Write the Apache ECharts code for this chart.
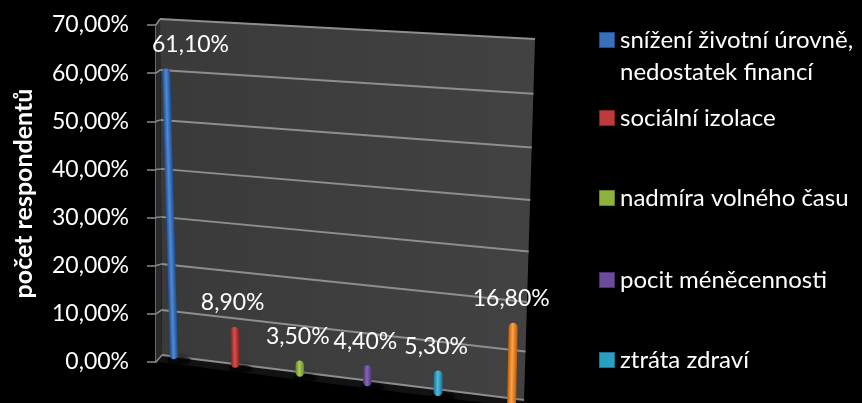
<!DOCTYPE html>
<html>
<head>
<meta charset="utf-8">
<script src="https://cdn.jsdelivr.net/npm/echarts@6/dist/echarts.min.js"></script>
<style>
  html, body { margin: 0; padding: 0; background: #000; }
  #chart { width: 862px; height: 403px; }
</style>
</head>
<body>
<div id="chart"></div>
<script>
// ---- data ----
const categories = [
  'snížení životní úrovně,\nnedostatek financí',
  'sociální izolace',
  'nadmíra volného času',
  'pocit méněcennosti',
  'ztráta zdraví',
  'jiné'
];
const shares = [61.1, 8.9, 3.5, 4.4, 5.3, 16.8];
const gridValues = [0, 10, 20, 30, 40, 50, 60, 70];
const axisTitle = 'počet respondentů';
const legendCount = 5;

// ---- styling ----
const shades = [
  { base: '#3a6fbd', edge: '#1f4c8c', mid: '#4f8ad6' },
  { base: '#c0393b', edge: '#8a2220', mid: '#d9504c' },
  { base: '#8db33e', edge: '#66852a', mid: '#a9cc58' },
  { base: '#6b4c9a', edge: '#4a3273', mid: '#8566b4' },
  { base: '#2b9fc3', edge: '#1a7391', mid: '#4cbde2' },
  { base: '#f0821e', edge: '#b95c0c', mid: '#ffa242' }
];
const FONT_FAMILY = 'Lato, sans-serif';
const LABEL_SIZE = 23;
const LEGEND_SIZE = 24;

const fmtPct = v => v.toFixed(2).replace('.', ',') + '%';

const measureCtx = document.createElement('canvas').getContext('2d');
function textWidth(s, size) {
  measureCtx.font = size + 'px Lato, sans-serif';
  return measureCtx.measureText(s).width;
}

// ---- perspective helpers (pixel space) ----
// upper part of the back wall sits slightly nearer to the viewer
function warpU(u) { return 0.9286 * u + 0.0714 * u * u; }
// back wall: t across (0 = left, 1 = right), u up (0 = axis min, 1 = axis max)
function wallPoint(t, u) {
  const w = warpU(u);
  const xl = 162 - 2 * u, yl = 355 - 336 * w;
  const xr = 524 + 11 * u, yr = 400 - 361 * w;
  return [xl + (xr - xl) * t, yl + (yr - yl) * t];
}
// front row where the columns stand
function frontX(t) { return 144.5 + 350 * t + 55 * t * t; }
function frontBase(x) { return 359 + 0.1396 * (x - 173); }
function frontScale(x) { return 336 + 0.0944 * (x - 173); }
function frontSlant(x) { return -0.0275 + 0.00014 * (x - 173); }

function renderWall(params, api) {
  const cs = params.coordSys;
  const v = api.value(1);
  const py = api.coord([0, v])[1];
  const u = (cs.y + cs.height - py) / cs.height;
  const a = wallPoint(0, u), b = wallPoint(1, u);
  const children = [];
  if (params.dataIndex === 0) {
    const bl = wallPoint(0, 0), br = wallPoint(1, 0), tr = wallPoint(1, 1), tl = wallPoint(0, 1);
    children.push({
      type: 'polygon', z2: 0,
      shape: { points: [bl, br, tr, tl] },
      style: {
        fill: { type: 'linear', x: 0, y: 0, x2: 1, y2: 0,
          colorStops: [{ offset: 0, color: '#3a3a3a' }, { offset: 1, color: '#424242' }] }
      }
    });
    children.push({
      type: 'polygon', z2: 0,
      shape: { points: [[cs.x, cs.y], tl, bl, [cs.x, cs.y + cs.height]] },
      style: { fill: '#2a2a2a' }
    });
    children.push({
      type: 'polygon', z2: 0,
      shape: { points: [bl, br, [br[0] + 2, br[1] + 8], [bl[0] - 4, bl[1] + 7]] },
      style: { fill: '#121212' }
    });
  }
  children.push({
    type: 'line', z2: 5,
    shape: { x1: cs.x, y1: py, x2: a[0], y2: a[1] },
    style: { stroke: '#8c8c8c', lineWidth: 1.5 }
  });
  children.push({
    type: 'line', z2: 5,
    shape: { x1: a[0], y1: a[1], x2: b[0], y2: b[1] },
    style: { stroke: '#8e8e8e', lineWidth: 2 }
  });
  return { type: 'group', children };
}

function renderColumn(params, api, si) {
  const cs = params.coordSys;
  const idx = api.value(0), val = api.value(1);
  const p0 = api.coord([idx, 0]);
  const p1 = api.coord([idx, val]);
  const t = (p0[0] - cs.x) / cs.width;
  const u = (p0[1] - p1[1]) / cs.height;
  const bx = frontX(t), by = frontBase(bx);
  const h = frontScale(bx) * warpU(u);
  const slant = frontSlant(bx);
  const w = 8 + (bx - 173) * 0.003;
  const topX = bx + slant * h, topY = by - h;
  const sh = shades[si];

  const text = fmtPct(val);
  const tw = textWidth(text, LABEL_SIZE);
  let lx = topX - 2;
  const minLeft = cs.x - 4;
  if (lx - tw / 2 < minLeft) lx = minLeft + tw / 2;

  return {
    type: 'group',
    children: [
      {
        type: 'ellipse',
        shape: { cx: bx + 5, cy: by + 1, rx: 12, ry: 4 },
        style: { fill: 'rgba(0,0,0,0.6)', shadowBlur: 6, shadowColor: 'rgba(0,0,0,0.8)' }
      },
      {
        type: 'group', x: bx, y: by, rotation: -Math.atan(slant),
        children: [{
          type: 'rect',
          shape: { x: -w / 2, y: -h, width: w, height: h, r: w / 2 },
          style: {
            fill: { type: 'linear', x: 0, y: 0, x2: 1, y2: 0,
              colorStops: [
                { offset: 0, color: sh.edge },
                { offset: 0.45, color: sh.mid },
                { offset: 1, color: sh.edge }
              ] }
          }
        }]
      },
      {
        type: 'text', x: lx, y: topY - 24,
        style: {
          text, fill: '#ffffff', fontSize: LABEL_SIZE, fontFamily: FONT_FAMILY,
          align: 'center', verticalAlign: 'middle'
        }
      }
    ]
  };
}

const columnSeries = categories.map((name, i) => ({
  type: 'custom',
  name,
  coordinateSystem: 'cartesian2d',
  clip: false,
  z: 3,
  itemStyle: { color: shades[i].base },
  encode: { x: 0, y: 1 },
  data: [[i, shares[i]]],
  renderItem: (params, api) => renderColumn(params, api, i)
}));

const wallSeries = {
  type: 'custom',
  name: 'wall',
  coordinateSystem: 'cartesian2d',
  clip: false,
  silent: true,
  z: 1,
  encode: { x: 0, y: 1 },
  data: gridValues.map(v => [0, v]),
  renderItem: renderWall
};

// legend rows, one component per entry
const legendRowTops = [25, 103, 183, 265, 345];
const legends = categories.slice(0, legendCount).map((name, i) => ({
  left: 599,
  top: legendRowTops[i],
  padding: 0,
  orient: 'vertical',
  selectedMode: false,
  icon: 'path://M0,0L15,0L15,15L0,15Z',
  itemWidth: 16,
  itemHeight: 15,
  data: [name],
  itemStyle: { color: shades[i].base, borderColor: shades[i].edge, borderWidth: 1 },
  formatter: n => n.split('\n')[0],
  textStyle: { color: '#ffffff', fontFamily: FONT_FAMILY, fontSize: LEGEND_SIZE, lineHeight: 30 }
}));

const option = {
  backgroundColor: '#000000',
  animation: false,
  grid: { left: 156, right: 332, top: 25, bottom: 41 },
  xAxis: {
    type: 'category',
    data: categories,
    show: false
  },
  yAxis: {
    type: 'value',
    min: 0,
    max: 70,
    interval: 10,
    name: axisTitle,
    nameLocation: 'middle',
    nameRotate: 90,
    nameGap: 120,
    nameTextStyle: { color: '#ffffff', fontFamily: FONT_FAMILY, fontWeight: 'bold', fontSize: 25 },
    axisLine: { show: true, lineStyle: { color: '#8c8c8c', width: 1.5 } },
    axisTick: { show: true, length: 9, lineStyle: { color: '#8c8c8c', width: 1.5 } },
    splitLine: { show: false },
    axisLabel: {
      color: '#ffffff', fontFamily: FONT_FAMILY, fontSize: LABEL_SIZE, margin: 27,
      formatter: v => fmtPct(v)
    }
  },
  legend: legends,
  graphic: [{
    type: 'text',
    left: 620,
    top: 57,
    silent: true,
    style: {
      text: categories[0].split('\n')[1],
      fill: '#ffffff', fontSize: LEGEND_SIZE, fontFamily: FONT_FAMILY, lineHeight: 30
    }
  }],
  series: [wallSeries].concat(columnSeries)
};

const chart = echarts.init(document.getElementById('chart'), null, { renderer: 'canvas' });
chart.setOption(option);
</script>
</body>
</html>
